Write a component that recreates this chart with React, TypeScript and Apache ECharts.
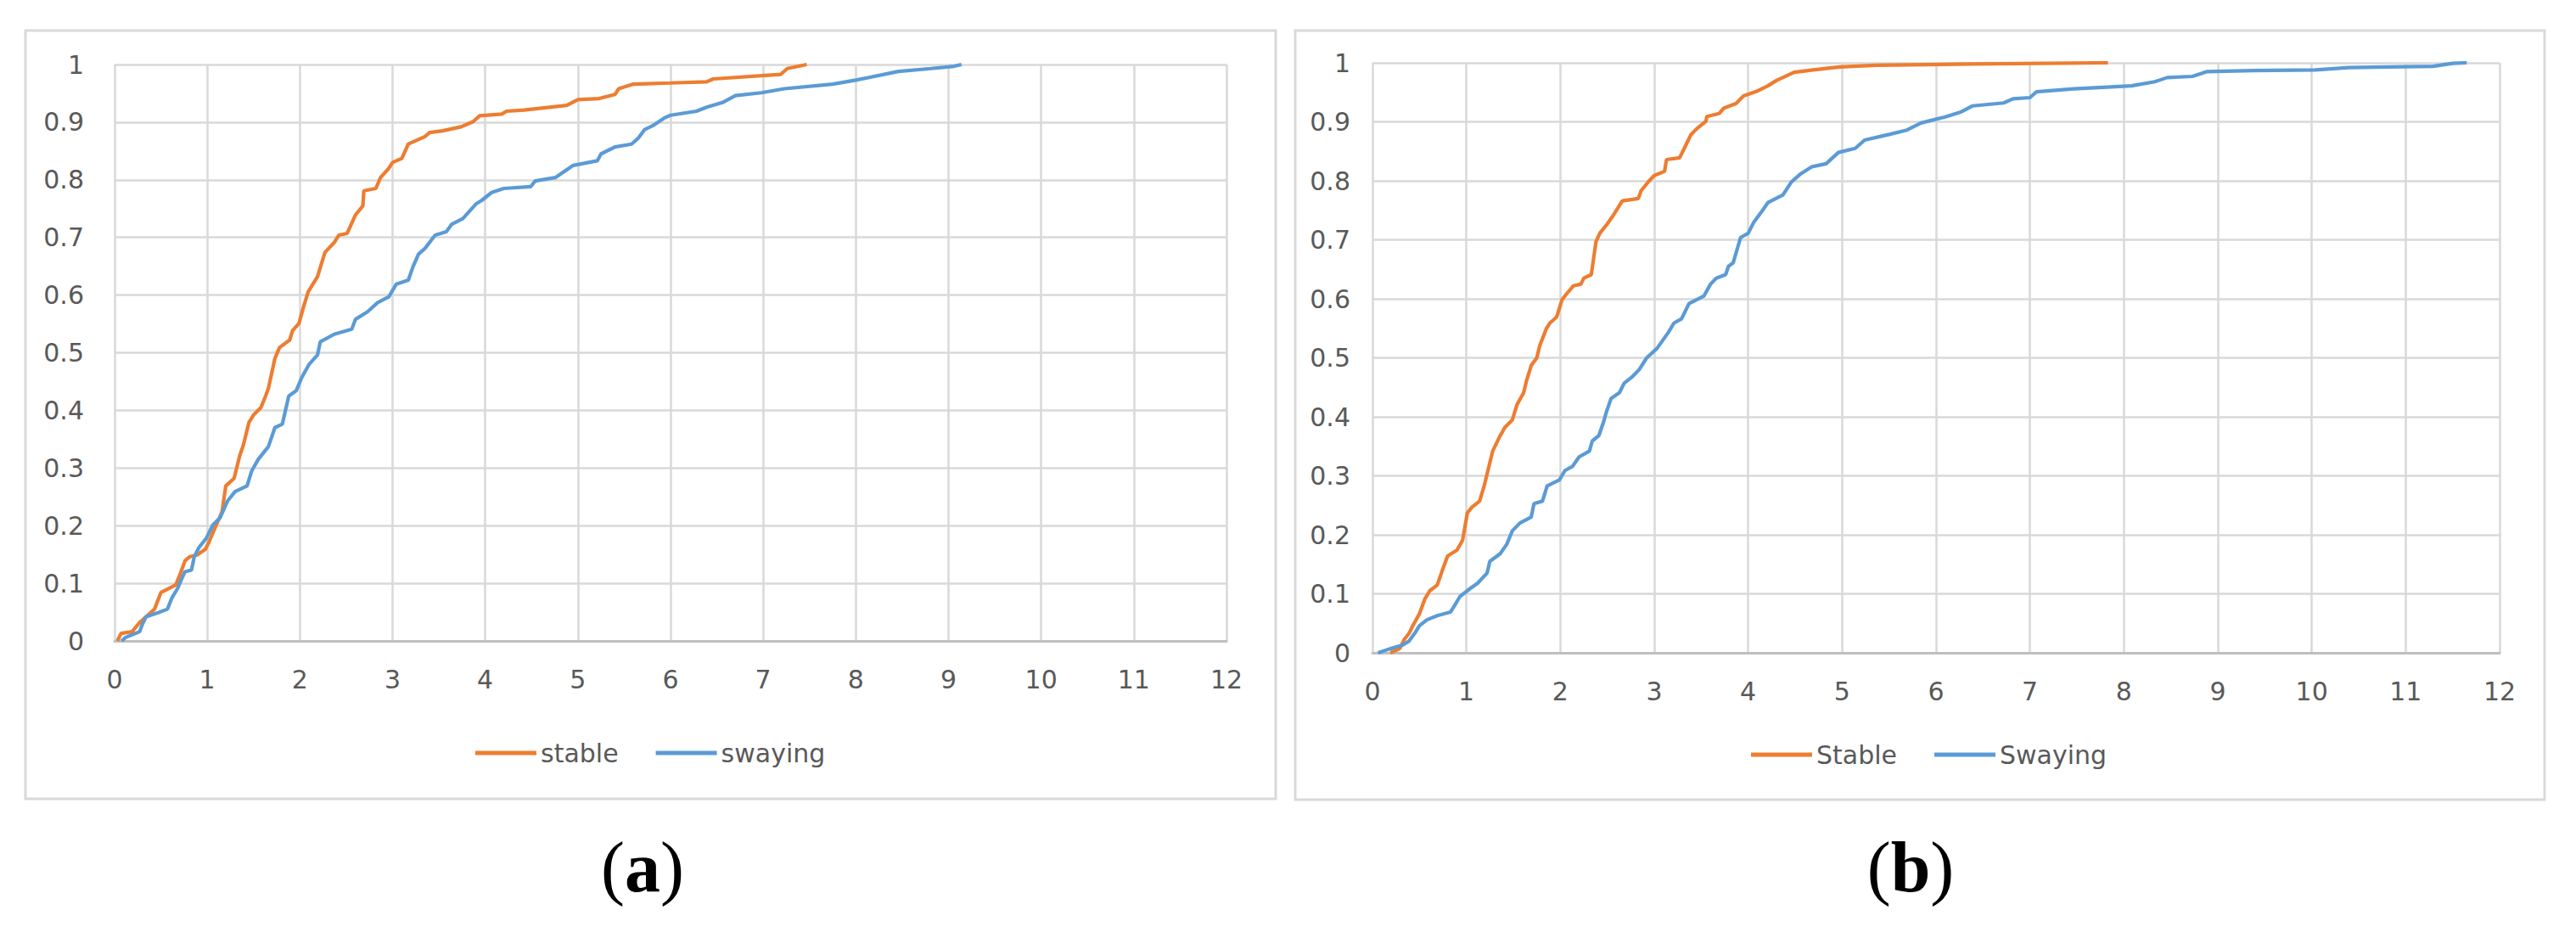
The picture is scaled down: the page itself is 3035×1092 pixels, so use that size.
import React, { useEffect, useRef } from "react";
import * as echarts from "echarts";

const xTicks = [0, 1, 2, 3, 4, 5, 6, 7, 8, 9, 10, 11, 12];
const yTicks = [0, 0.1, 0.2, 0.3, 0.4, 0.5, 0.6, 0.7, 0.8, 0.9, 1];

const namesA = ["stable", "swaying"];
const namesB = ["Stable", "Swaying"];
const captions = ["a", "b"];

const stableA: number[][] = [
  [0.03, 0], [0.07, 0.013], [0.19, 0.016], [0.27, 0.032], [0.34, 0.042], [0.43, 0.055], [0.5, 0.084],
  [0.66, 0.097], [0.71, 0.117], [0.76, 0.139], [0.81, 0.146], [0.89, 0.149], [0.98, 0.159], [1.02, 0.172],
  [1.07, 0.191], [1.16, 0.224], [1.2, 0.269], [1.29, 0.282], [1.35, 0.321], [1.39, 0.34], [1.45, 0.379],
  [1.5, 0.392], [1.58, 0.405], [1.63, 0.425], [1.66, 0.438], [1.73, 0.49], [1.78, 0.509], [1.89, 0.522],
  [1.92, 0.538], [1.99, 0.551], [2.04, 0.58], [2.09, 0.606], [2.19, 0.632], [2.27, 0.674], [2.37, 0.691],
  [2.42, 0.704], [2.51, 0.707], [2.6, 0.739], [2.68, 0.755], [2.69, 0.781], [2.82, 0.785], [2.87, 0.804],
  [2.96, 0.82], [3.0, 0.83], [3.1, 0.837], [3.17, 0.862], [3.35, 0.875], [3.4, 0.882], [3.54, 0.885],
  [3.74, 0.892], [3.87, 0.901], [3.94, 0.911], [4.18, 0.914], [4.23, 0.919], [4.42, 0.921], [4.88, 0.929],
  [5.0, 0.939], [5.23, 0.941], [5.4, 0.948], [5.44, 0.958], [5.6, 0.966], [6.0, 0.968], [6.39, 0.97],
  [6.46, 0.975], [7.19, 0.983], [7.26, 0.993], [7.47, 1.0],
];

const swayingA: number[][] = [
  [0.075, 0], [0.12, 0.006], [0.27, 0.016], [0.3, 0.029], [0.34, 0.042], [0.47, 0.049], [0.57, 0.055],
  [0.62, 0.075], [0.68, 0.091], [0.73, 0.11], [0.76, 0.12], [0.83, 0.123], [0.86, 0.146], [0.91, 0.162],
  [0.99, 0.178], [1.06, 0.201], [1.14, 0.214], [1.22, 0.243], [1.3, 0.259], [1.43, 0.269], [1.48, 0.295],
  [1.55, 0.315], [1.66, 0.337], [1.73, 0.37], [1.81, 0.376], [1.88, 0.425], [1.96, 0.434], [2.02, 0.457],
  [2.1, 0.48], [2.19, 0.496], [2.22, 0.519], [2.37, 0.532], [2.56, 0.541], [2.6, 0.558], [2.73, 0.571],
  [2.84, 0.587], [2.96, 0.597], [3.04, 0.619], [3.17, 0.626], [3.22, 0.649], [3.28, 0.671], [3.35, 0.681],
  [3.46, 0.704], [3.58, 0.71], [3.64, 0.723], [3.76, 0.733], [3.9, 0.758], [3.96, 0.764], [4.07, 0.778],
  [4.2, 0.785], [4.49, 0.788], [4.54, 0.798], [4.76, 0.804], [4.95, 0.825], [5.21, 0.833], [5.25, 0.845],
  [5.4, 0.857], [5.58, 0.862], [5.65, 0.872], [5.72, 0.887], [5.81, 0.894], [5.93, 0.907], [6.0, 0.912],
  [6.28, 0.919], [6.39, 0.926], [6.56, 0.934], [6.7, 0.946], [6.98, 0.951], [7.23, 0.958], [7.75, 0.966],
  [8.0, 0.973], [8.46, 0.988], [8.81, 0.993], [9.06, 0.997], [9.14, 1.0],
];

const stableB: number[][] = [
  [0.19, 0], [0.29, 0.007], [0.34, 0.023], [0.39, 0.033], [0.43, 0.046], [0.5, 0.066], [0.53, 0.079],
  [0.56, 0.092], [0.61, 0.105], [0.69, 0.115], [0.74, 0.138], [0.8, 0.164], [0.9, 0.174], [0.96, 0.191],
  [1.01, 0.237], [1.06, 0.247], [1.14, 0.257], [1.19, 0.283], [1.24, 0.316], [1.28, 0.342], [1.35, 0.365],
  [1.41, 0.382], [1.49, 0.395], [1.54, 0.421], [1.61, 0.441], [1.64, 0.461], [1.69, 0.487], [1.75, 0.5],
  [1.78, 0.52], [1.85, 0.549], [1.89, 0.559], [1.96, 0.569], [2.02, 0.599], [2.07, 0.609], [2.14, 0.622],
  [2.22, 0.625], [2.25, 0.635], [2.33, 0.641], [2.38, 0.697], [2.42, 0.711], [2.5, 0.727], [2.57, 0.743],
  [2.66, 0.766], [2.83, 0.77], [2.86, 0.783], [2.94, 0.799], [3.0, 0.809], [3.11, 0.816], [3.13, 0.836],
  [3.27, 0.839], [3.32, 0.855], [3.39, 0.878], [3.45, 0.888], [3.55, 0.901], [3.56, 0.909], [3.69, 0.914],
  [3.74, 0.923], [3.87, 0.931], [3.95, 0.944], [4.08, 0.951], [4.21, 0.961], [4.3, 0.97], [4.49, 0.984],
  [4.69, 0.988], [4.97, 0.993], [5.36, 0.996], [6.37, 0.998], [7.83, 1.0],
];

const swayingB: number[][] = [
  [0.06, 0], [0.19, 0.007], [0.32, 0.013], [0.39, 0.02], [0.45, 0.033], [0.5, 0.046], [0.58, 0.056],
  [0.69, 0.063], [0.83, 0.069], [0.87, 0.079], [0.93, 0.095], [1.04, 0.109], [1.12, 0.118], [1.22, 0.135],
  [1.25, 0.155], [1.36, 0.168], [1.43, 0.184], [1.49, 0.207], [1.57, 0.22], [1.69, 0.23], [1.72, 0.253],
  [1.81, 0.257], [1.86, 0.283], [1.99, 0.293], [2.05, 0.309], [2.13, 0.316], [2.2, 0.332], [2.31, 0.342],
  [2.34, 0.359], [2.41, 0.368], [2.46, 0.391], [2.49, 0.408], [2.54, 0.431], [2.63, 0.441], [2.68, 0.457],
  [2.76, 0.467], [2.84, 0.48], [2.92, 0.5], [3.03, 0.516], [3.15, 0.543], [3.21, 0.559], [3.29, 0.566],
  [3.37, 0.592], [3.53, 0.605], [3.6, 0.625], [3.66, 0.635], [3.76, 0.641], [3.79, 0.655], [3.84, 0.661],
  [3.92, 0.704], [4.0, 0.711], [4.06, 0.73], [4.14, 0.747], [4.21, 0.763], [4.37, 0.776], [4.46, 0.798],
  [4.56, 0.812], [4.68, 0.824], [4.83, 0.829], [4.96, 0.848], [5.14, 0.855], [5.24, 0.869], [5.51, 0.879],
  [5.69, 0.886], [5.84, 0.898], [6.09, 0.908], [6.27, 0.917], [6.39, 0.927], [6.72, 0.932], [6.82, 0.939],
  [7.0, 0.941], [7.07, 0.951], [7.47, 0.956], [8.08, 0.961], [8.33, 0.968], [8.46, 0.975], [8.73, 0.977],
  [8.88, 0.985], [9.38, 0.987], [10.04, 0.988], [10.39, 0.992], [11.29, 0.994], [11.5, 0.999], [11.65, 1.0],
];

const ORANGE = "#ED7D31";
const BLUE = "#5B9BD5";
const GRID = "#d9d9d9";
const LABEL = "#595959";
const FONT = "DejaVu Sans";

export default function App() {
  const ref = useRef<HTMLDivElement>(null);
  useEffect(() => {
    if (!ref.current) return;
    const chart = echarts.init(ref.current, null, { renderer: "svg" });
    const fmtY = (v: number) => String(Math.round(v * 10) / 10);
    const mkX = (gridIndex: number) => ({
      gridIndex,
      type: "value",
      min: xTicks[0],
      max: xTicks[xTicks.length - 1],
      interval: 1,
      axisLine: { show: true, onZero: false, lineStyle: { color: "#bfbfbf", width: 3 } },
      axisTick: { show: false },
      axisLabel: { fontSize: 30, color: LABEL, fontFamily: FONT, margin: 30 },
      splitLine: { show: true, lineStyle: { color: GRID, width: 2.5 } },
    });
    const mkY = (gridIndex: number, margin: number) => ({
      gridIndex,
      type: "value",
      min: yTicks[0],
      max: yTicks[yTicks.length - 1],
      interval: 0.1,
      axisLine: { show: false },
      axisTick: { show: false },
      axisLabel: { fontSize: 30, color: LABEL, fontFamily: FONT, margin, formatter: fmtY },
      splitLine: { show: true, lineStyle: { color: GRID, width: 2.5 } },
    });
    const mkSeries = (name: string, data: number[][], color: string, idx: number) => ({
      name,
      type: "line",
      data,
      xAxisIndex: idx,
      yAxisIndex: idx,
      showSymbol: false,
      symbol: "none",
      color,
      lineStyle: { color, width: 4.2 },
      z: 5,
    });
    const legendBase = {
      icon: "rect",
      itemWidth: 72,
      itemHeight: 5,
      itemGap: 44,
      textStyle: { fontSize: 30, color: LABEL, fontFamily: FONT },
    };
    const caption = (letter: string, x: number) => ({
      type: "text",
      x,
      y: 1021,
      style: {
        text: "{p|(}{b|" + letter + "}{p|)}",
        rich: {
          p: { fontFamily: "Liberation Serif", fontSize: 84, fill: "#000", color: "#000" },
          b: { fontFamily: "Liberation Serif", fontSize: 84, fontWeight: "bold", fill: "#000", color: "#000" },
        },
        align: "center",
        verticalAlign: "middle",
        textAlign: "center",
        textVerticalAlign: "middle",
      },
    });
    chart.setOption({
      animation: false,
      backgroundColor: "#ffffff",
      grid: [
        { left: 135, top: 76, width: 1310, height: 679, containLabel: false },
        { left: 1617, top: 74, width: 1328, height: 695, containLabel: false },
      ],
      xAxis: [mkX(0), mkX(1)],
      yAxis: [mkY(0, 36), mkY(1, 26)],
      legend: [
        { ...legendBase, data: namesA, left: 555, top: 867 },
        { ...legendBase, data: namesB, left: 2058, top: 869 },
      ],
      series: [
        mkSeries(namesA[0], stableA, ORANGE, 0),
        mkSeries(namesA[1], swayingA, BLUE, 0),
        mkSeries(namesB[0], stableB, ORANGE, 1),
        mkSeries(namesB[1], swayingB, BLUE, 1),
      ],
      graphic: [
        {
          type: "rect",
          shape: { x: 30, y: 36, width: 1473, height: 905 },
          style: { fill: "none", stroke: GRID, lineWidth: 3 },
          z: -1,
        },
        {
          type: "rect",
          shape: { x: 1526, y: 36, width: 1472, height: 906 },
          style: { fill: "none", stroke: GRID, lineWidth: 3 },
          z: -1,
        },
        caption(captions[0], 757),
        caption(captions[1], 2251),
      ],
    });
    return () => chart.dispose();
  }, []);
  return (
    <div
      ref={ref}
      style={{ position: "absolute", left: 0, top: 0, width: 3035, height: 1092, background: "#fff" }}
    />
  );
}
